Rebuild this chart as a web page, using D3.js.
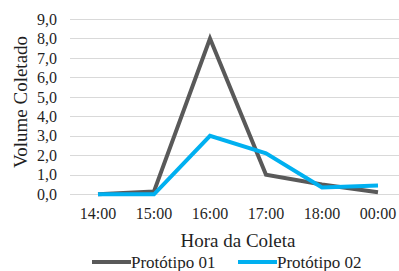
<!DOCTYPE html>
<html>
<head>
<meta charset="utf-8">
<script src="https://cdn.jsdelivr.net/npm/d3@7"></script>
<style>
  body { margin: 0; background: #fff; }
</style>
</head>
<body>
<div id="plot"></div>
<script>
var horas = ["14:00", "15:00", "16:00", "17:00", "18:00", "00:00"];
var prototipo01 = [0.0, 0.15, 8.0, 1.0, 0.5, 0.1];
var prototipo02 = [0.0, 0.0, 3.0, 2.1, 0.35, 0.45];
var yTicks = [0, 1, 2, 3, 4, 5, 6, 7, 8, 9];
var seriesNames = ["Protótipo 01", "Protótipo 02"];
var colors = ["#595959", "#00b0f0"];

var width = 399, height = 271;
var fontFam = "'Liberation Serif'";
var textColor = "#1f1f1f";

var svg = d3.select("#plot")
  .append("svg")
  .attr("width", width)
  .attr("height", height);

// scales
var x = d3.scaleBand()
  .domain(horas)
  .range([70, 406]);

var y = d3.scaleLinear()
  .domain([0, 9])
  .range([194.3, 19]);

// grid lines
svg.append("g")
  .selectAll("line")
  .data(yTicks)
  .enter()
  .append("line")
  .attr("x1", 70)
  .attr("x2", 406)
  .attr("y1", d => Math.round(y(d)) + 0.5)
  .attr("y2", d => Math.round(y(d)) + 0.5)
  .attr("stroke", "#d9d9d9")
  .attr("stroke-width", 1);

// Y axis labels
var fmt = d => d.toFixed(1).replace(".", ",");
svg.append("g")
  .selectAll("text")
  .data(yTicks)
  .enter()
  .append("text")
  .attr("x", 57)
  .attr("y", d => y(d))
  .attr("dy", "0.35em")
  .attr("text-anchor", "end")
  .style("font-family", fontFam)
  .style("font-size", "16px")
  .style("fill", textColor)
  .text(fmt);

// X axis labels
svg.append("g")
  .selectAll("text")
  .data(horas)
  .enter()
  .append("text")
  .attr("x", d => x(d) + x.bandwidth() / 2)
  .attr("y", 213)
  .attr("dy", "0.35em")
  .attr("text-anchor", "middle")
  .style("font-family", fontFam)
  .style("font-size", "16px")
  .style("fill", textColor)
  .text(d => d);

// axis titles
svg.append("text")
  .attr("x", 238)
  .attr("y", 240)
  .attr("dy", "0.35em")
  .attr("text-anchor", "middle")
  .style("font-family", fontFam)
  .style("font-size", "19px")
  .style("fill", textColor)
  .text("Hora da Coleta");

svg.append("text")
  .attr("transform", "translate(20, 102) rotate(-90)")
  .attr("dy", "0.35em")
  .attr("text-anchor", "middle")
  .style("font-family", fontFam)
  .style("font-size", "19px")
  .style("fill", textColor)
  .text("Volume Coletado");

// the lines
var line = d3.line()
  .x((d, i) => x(horas[i]) + x.bandwidth() / 2)
  .y(d => y(d));

[prototipo01, prototipo02].forEach(function(serie, k) {
  svg.append("path")
    .datum(serie)
    .attr("fill", "none")
    .attr("stroke", colors[k])
    .attr("stroke-width", 4)
    .attr("d", line);
});

// legend
var legendX = [92, 238];
seriesNames.forEach(function(name, k) {
  svg.append("line")
    .attr("x1", legendX[k])
    .attr("x2", legendX[k] + 39)
    .attr("y1", 262)
    .attr("y2", 262)
    .attr("stroke", colors[k])
    .attr("stroke-width", 4);
  svg.append("text")
    .attr("x", legendX[k] + 39)
    .attr("y", 262)
    .attr("dy", "0.35em")
    .style("font-family", fontFam)
    .style("font-size", "17px")
    .style("fill", textColor)
    .text(name);
});
</script>
</body>
</html>
